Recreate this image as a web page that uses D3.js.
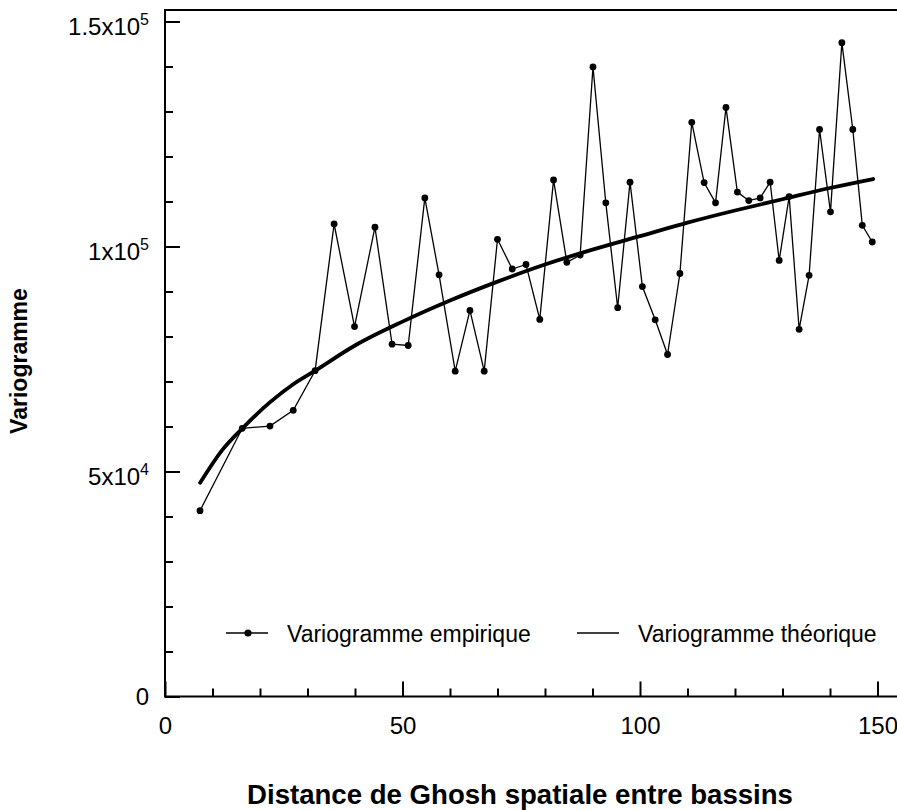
<!DOCTYPE html>
<html>
<head>
<meta charset="utf-8">
<script src="https://cdn.jsdelivr.net/npm/d3@7"></script>
<style>
  body { margin: 0; background: #fff; }
  svg { display: block; }
  text { font-family: "Liberation Sans", Arial, sans-serif; fill: #000; }
</style>
</head>
<body>
<svg id="chart" width="897" height="810"></svg>
<script>
// Empirical variogram: lag distance and semivariance
const distance = [7.37, 16.27, 22.1, 27.0, 31.6, 35.6, 39.9, 44.2, 47.8, 51.2, 54.7, 57.7,
  61.1, 64.2, 67.2, 70.0, 73.1, 76.0, 78.9, 81.8, 84.6, 87.4, 90.1, 92.8, 95.3, 97.9,
  100.5, 103.2, 105.8, 108.4, 110.9, 113.5, 115.9, 118.1, 120.5, 122.9, 125.3, 127.4,
  129.3, 131.4, 133.5, 135.6, 137.8, 140.1, 142.5, 144.8, 146.8, 148.9];
const gammaEmpirical = [41300, 59600, 60100, 63600, 72400, 105000, 82200, 104300, 78300, 78000,
  110800, 93700, 72300, 85800, 72300, 101600, 95000, 96000, 83800, 114800, 96500, 98100,
  139900, 109700, 86400, 114300, 91100, 83700, 76000, 94000, 127600, 114200, 109700,
  130900, 112100, 110200, 110800, 114300, 96900, 111100, 81600, 93600, 126000, 107700,
  145300, 126000, 104700, 101000];

// Fitted (theoretical) variogram
const modelDistance = [7.4, 12, 16.3, 22, 27, 31.6, 40, 50, 60, 70, 80, 90, 100, 110, 120, 130, 140, 149.1];
const gammaModel = [47500, 54700, 59600, 65300, 69400, 72400, 78000, 83300, 88000, 92200,
  96000, 99300, 102300, 105300, 108000, 110500, 113000, 115000];

// Axis ticks
const xTicksMajor = [0, 50, 100, 150];
const xTicksMinor = [10, 20, 30, 40, 60, 70, 80, 90, 110, 120, 130, 140];
const yTicksMajor = [0, 50000, 100000, 150000];
const yTickBase = ["0", "5x10", "1x10", "1.5x10"];
const yTickExp = ["", "4", "5", "5"];
const yTicksMinor = [10000, 20000, 30000, 40000, 60000, 70000, 80000, 90000,
  110000, 120000, 130000, 140000];

const legendLabels = ["Variogramme empirique", "Variogramme théorique"];
const xTitle = "Distance de Ghosh spatiale entre bassins";
const yTitle = "Variogramme";

const svg = d3.select("#chart");
const plotLeft = 165, plotTop = 10, plotBottom = 696.5, plotRight = 900;

const x = d3.scaleLinear().domain([0, 150]).range([plotLeft, 877.5]);
const y = d3.scaleLinear().domain([0, 150000]).range([plotBottom, 21.5]);

// Frame: left axis, bottom axis and top border
svg.append("path")
  .attr("d", `M${plotRight},${plotTop}H${plotLeft}V${plotBottom}H${plotRight}`)
  .attr("fill", "none").attr("stroke", "#000").attr("stroke-width", 2);

// X ticks (inward)
const gx = svg.append("g").attr("transform", `translate(0,${plotBottom})`);
gx.append("g").call(d3.axisBottom(x).tickValues(xTicksMinor).tickSize(-8).tickFormat(""))
  .call(g => g.select(".domain").remove());
gx.append("g").call(d3.axisBottom(x).tickValues(xTicksMajor).tickSize(-15).tickPadding(20))
  .call(g => g.select(".domain").remove());
gx.selectAll("line").attr("stroke", "#000").attr("stroke-width", 2);
gx.selectAll("g").attr("font-family", null);
gx.selectAll("text").attr("font-size", 24);

// Y ticks (inward)
const gy = svg.append("g").attr("transform", `translate(${plotLeft},0)`);
gy.append("g").call(d3.axisLeft(y).tickValues(yTicksMinor).tickSize(-8).tickFormat(""))
  .call(g => g.select(".domain").remove());
gy.append("g").call(d3.axisLeft(y).tickValues(yTicksMajor).tickSize(-15).tickFormat(""))
  .call(g => g.select(".domain").remove());
gy.selectAll("line").attr("stroke", "#000").attr("stroke-width", 2);

// Y tick labels with exponent
yTicksMajor.forEach((v, i) => {
  const t = svg.append("text")
    .attr("x", 149)
    .attr("y", y(v) + (yTickExp[i] ? 13.5 : 8.5))
    .attr("text-anchor", "end")
    .attr("font-size", 24);
  t.append("tspan").text(yTickBase[i]);
  if (yTickExp[i]) {
    t.append("tspan").attr("dy", -10).attr("font-size", 16).text(yTickExp[i]);
  }
});

// Theoretical model curve
svg.append("path")
  .datum(modelDistance.map((d, i) => [d, gammaModel[i]]))
  .attr("fill", "none").attr("stroke", "#000").attr("stroke-width", 3.8)
  .attr("stroke-linecap", "round")
  .attr("d", d3.line().x(d => x(d[0])).y(d => y(d[1])).curve(d3.curveMonotoneX));

// Empirical variogram
const emp = distance.map((d, i) => [d, gammaEmpirical[i]]);
svg.append("path")
  .datum(emp)
  .attr("fill", "none").attr("stroke", "#000").attr("stroke-width", 1.3)
  .attr("d", d3.line().x(d => x(d[0])).y(d => y(d[1])));
svg.append("g").selectAll("circle").data(emp).join("circle")
  .attr("cx", d => x(d[0])).attr("cy", d => y(d[1])).attr("r", 3.4).attr("fill", "#000");

// Legend
const lg = svg.append("g");
lg.append("line").attr("x1", 226).attr("x2", 268).attr("y1", 633).attr("y2", 633)
  .attr("stroke", "#000").attr("stroke-width", 1.5);
lg.append("circle").attr("cx", 248).attr("cy", 633).attr("r", 3.6).attr("fill", "#000");
lg.append("text").attr("x", 287).attr("y", 641.5).attr("font-size", 23).text(legendLabels[0]);
lg.append("line").attr("x1", 577).attr("x2", 619).attr("y1", 633).attr("y2", 633)
  .attr("stroke", "#000").attr("stroke-width", 1.5);
lg.append("text").attr("x", 638).attr("y", 641.5).attr("font-size", 23).text(legendLabels[1]);

// Axis titles
svg.append("text").attr("x", 520).attr("y", 804).attr("text-anchor", "middle")
  .attr("font-size", 27.6).attr("font-weight", "bold").text(xTitle);
svg.append("text").attr("transform", "translate(27,361) rotate(-90)")
  .attr("text-anchor", "middle").attr("font-size", 23).attr("font-weight", "bold").text(yTitle);
</script>
</body>
</html>
